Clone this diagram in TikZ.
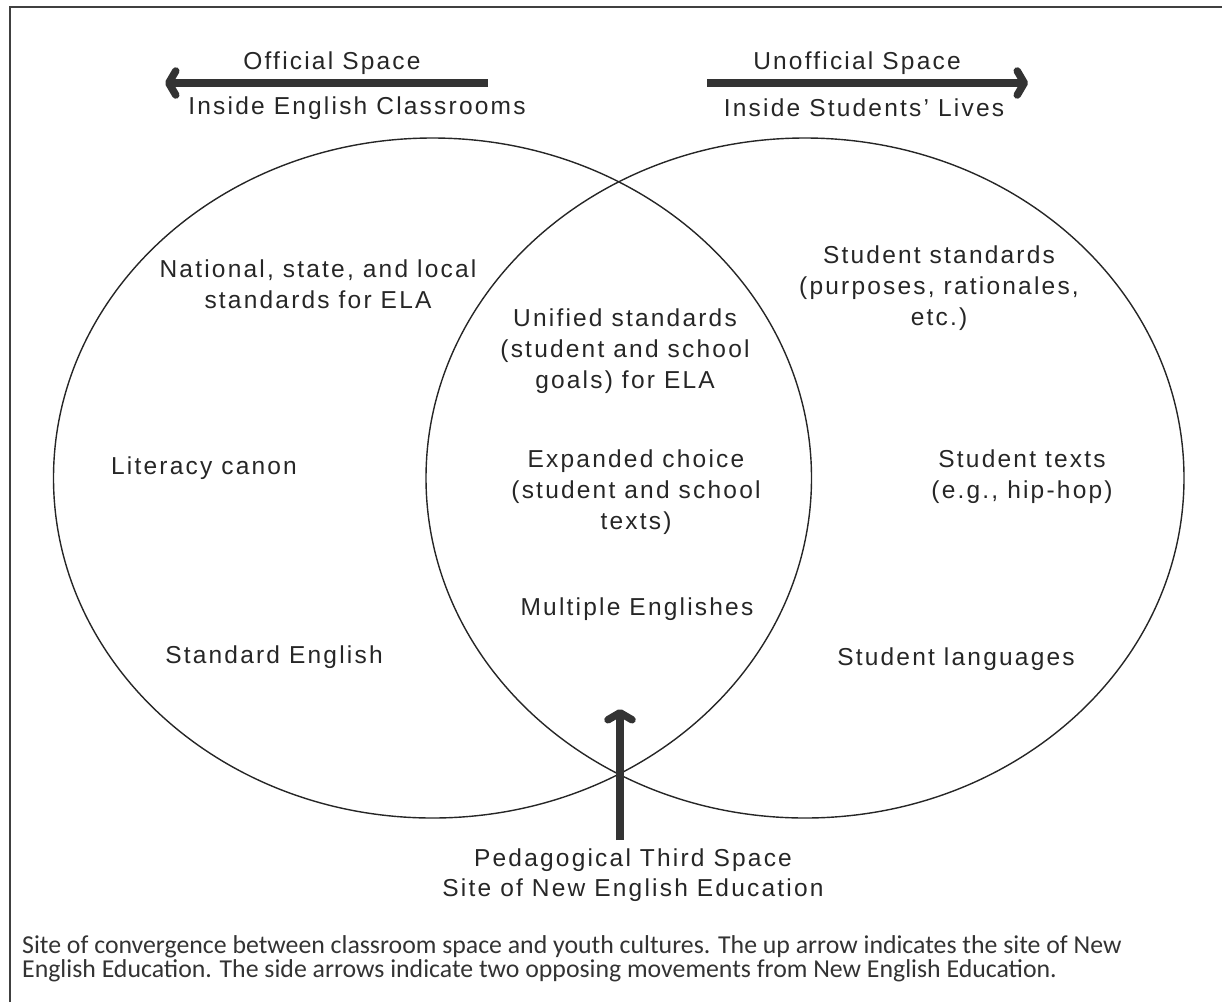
\documentclass[tikz,border=0pt]{standalone}
\usepackage{fontspec}
\setmainfont{Liberation Sans}[LetterSpace=9]
\newfontfamily\capfont{Carlito}
\usetikzlibrary{arrows.meta}

\begin{document}
\begin{tikzpicture}[x=1pt,y=-1pt,
    lbl/.style={align=center,font=\fontsize{24.5}{31}\selectfont,text=black!85,inner sep=0pt},
    caption/.style={anchor=base west,inner sep=0pt,text=black!80,font=\capfont\fontsize{25.8}{24}\selectfont},
    ring/.style={draw=black!85,line width=1.4pt},
    bigarrow/.style={draw=black!80,line width=7.5pt,-{Straight Barb[length=7pt,width=24pt,round]}}]
    \useasboundingbox (0,0) rectangle (1222,1002);
    % frame
    \draw[line width=2pt,black!75] (10,1002) -- (10,7) -- (1222,7);
    % the two spaces
    \draw[ring] (432.5,478) ellipse (379 and 340);
    \draw[ring] (805,478) ellipse (379 and 340);
    % side arrows
    \node[lbl] (off) at (332,63) {Official Space};
    \node[lbl] (offin) at (357,108) {Inside English Classrooms};
    \node[lbl] (unoff) at (857,63) {Unofficial Space};
    \node[lbl] (unoffin) at (864,108) {Inside Students’ Lives};
    \coordinate (offstart) at (488,83);
    \coordinate (offend) at (165,83);
    \coordinate (unoffstart) at (707,83);
    \coordinate (unoffend) at (1028,83);
    \draw[bigarrow] (offstart) -- (offend);
    \draw[bigarrow] (unoffstart) -- (unoffend);
    % left
    \node[lbl] (natl) at (318,284) {National, state, and local\\standards for ELA};
    \node[lbl] (canon) at (204,468) {Literacy canon};
    \node[lbl] (stdeng) at (274,657) {Standard English};
    % middle
    \node[lbl] (unified) at (625,351) {Unified standards\\(student and school\\goals) for ELA};
    \node[lbl] (choice) at (636,492) {Expanded choice\\(student and school\\texts)};
    \node[lbl] (multi) at (637,609) {Multiple Englishes};
    % right
    \node[lbl] (ststd) at (939,288) {Student standards\\(purposes, rationales,\\etc.)};
    \node[lbl] (sttxt) at (1022,477) {Student texts\\(e.g., hip-hop)};
    \node[lbl] (stlang) at (956,659) {Student languages};
    % third space
    \node[lbl,font=\fontsize{24.5}{30}\selectfont] (third) at (633,875) {Pedagogical Third Space\\Site of New English Education};
    \coordinate (thirdtip) at (620,709);
    \coordinate (thirdfoot) at (620,840);
    \draw[bigarrow] (thirdfoot) -- (thirdtip);
    % caption
    \node[caption] (cap1) at (22,953) {Site of convergence between classroom space and youth cultures. The up arrow indicates the site of New};
    \node[caption] (cap2) at (22,977) {English Education. The side arrows indicate two opposing movements from New English Education.};
\end{tikzpicture}
\end{document}
